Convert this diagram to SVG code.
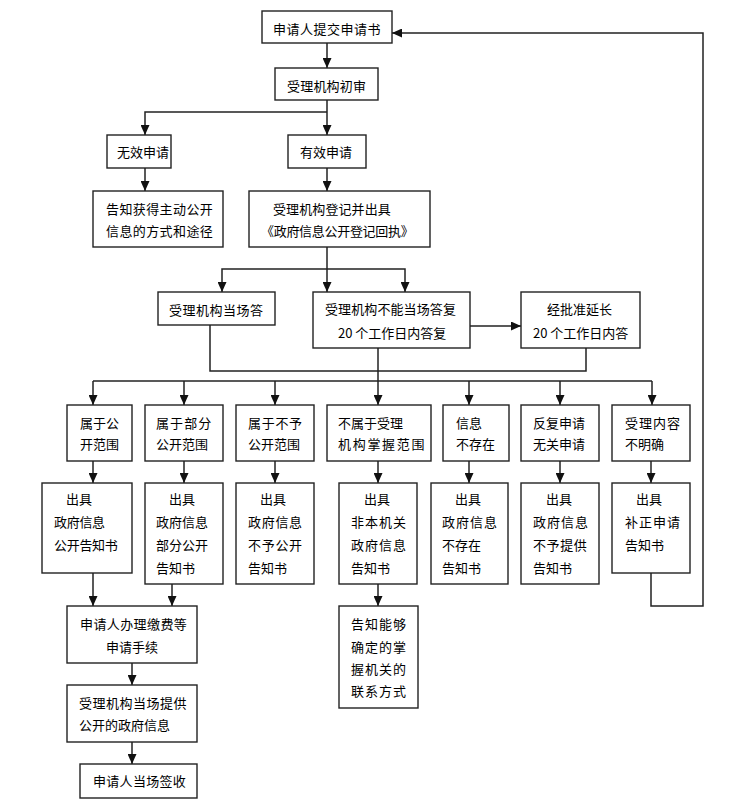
<svg xmlns="http://www.w3.org/2000/svg" width="729" height="811" viewBox="0 0 729 811">
<defs>
<marker id="ah" markerUnits="userSpaceOnUse" markerWidth="10" markerHeight="9" refX="10" refY="4.5" orient="auto">
<path d="M0,0 L10,4.5 L0,9 z" fill="#111"/>
</marker>
<style>
.b{fill:#fff;stroke:#222;stroke-width:1.4}
.c{fill:none;stroke:#222;stroke-width:1.5}
.a{marker-end:url(#ah)}
text{font-family:"Noto Sans CJK SC","Noto Sans",sans-serif;font-size:13px;fill:#000;dominant-baseline:central}
</style>
</defs>
<rect width="729" height="811" fill="#fff"/>
<g id="connectors">
<path class="c a" d="M327,43 V68"/>
<path class="c a" d="M327,100 V135"/>
<path class="c a" d="M327,112 H145 V135"/>
<path class="c a" d="M145,168 V191"/>
<path class="c a" d="M327,168 V191"/>
<path class="c a" d="M327,247 V292"/>
<path class="c a" d="M327,269 H222 V292"/>
<path class="c a" d="M327,269 H405 V292"/>
<path class="c a" d="M470,326 H521"/>
<path class="c" d="M210,325 V371 H586 V348"/>
<path class="c a" d="M378,348 V405"/>
<path class="c" d="M93,381 H652"/>
<path class="c a" d="M93,381 V405"/>
<path class="c a" d="M184,381 V405"/>
<path class="c a" d="M275,381 V405"/>
<path class="c a" d="M469,381 V405"/>
<path class="c a" d="M560,381 V405"/>
<path class="c a" d="M652,381 V405"/>
<path class="c a" d="M93,461 V483"/>
<path class="c a" d="M184,461 V483"/>
<path class="c a" d="M275,461 V483"/>
<path class="c a" d="M378,461 V483"/>
<path class="c a" d="M469,461 V483"/>
<path class="c a" d="M560,461 V483"/>
<path class="c a" d="M651,461 V483"/>
<path class="c a" d="M93,573 V606"/>
<path class="c a" d="M172,584 V606"/>
<path class="c a" d="M378,584 V606"/>
<path class="c a" d="M132,663 V685"/>
<path class="c a" d="M132,742 V764"/>
<path class="c a" d="M651,573 V606 H703 V33 H392"/>
</g>
<g id="n1"><rect class="b" x="262" y="11" width="130" height="32"/><text x="273" y="28" letter-spacing="0.5">申请人提交申请书</text></g>
<g id="n2"><rect class="b" x="275" y="68" width="103" height="32"/><text x="287" y="85" letter-spacing="0.2">受理机构初审</text></g>
<g id="n3"><rect class="b" x="107" y="135" width="64" height="33"/><text x="117" y="151">无效申请</text></g>
<g id="n4"><rect class="b" x="288" y="135" width="78" height="33"/><text x="300" y="151">有效申请</text></g>
<g id="n5"><rect class="b" x="93" y="191" width="130" height="56"/><text x="106" y="208" letter-spacing="0.4">告知获得主动公开</text><text x="106" y="230" letter-spacing="0.4">信息的方式和途径</text></g>
<g id="n6"><rect class="b" x="249" y="191" width="181" height="56"/><text x="273" y="208" letter-spacing="0.1">受理机构登记并出具</text><text x="261" y="230" letter-spacing="-0.3">《政府信息公开登记回执》</text></g>
<g id="n7"><rect class="b" x="158" y="292" width="117" height="33"/><text x="169" y="309" letter-spacing="0.5">受理机构当场答</text></g>
<g id="n8"><rect class="b" x="313" y="292" width="157" height="56"/><text x="325" y="308" letter-spacing="0.1">受理机构不能当场答复</text><text x="338" y="332">20 个工作日内答复</text></g>
<g id="n9"><rect class="b" x="521" y="292" width="119" height="56"/><text x="547" y="308">经批准延长</text><text x="533" y="332">20 个工作日内答</text></g>
<g id="r1"><rect class="b" x="67" y="405" width="65" height="56"/><text x="80" y="422">属于公</text><text x="80" y="443">开范围</text></g>
<g id="r2"><rect class="b" x="145" y="405" width="78" height="56"/><text x="156" y="422" letter-spacing="1.1">属于部分</text><text x="156" y="443">公开范围</text></g>
<g id="r3"><rect class="b" x="236" y="405" width="78" height="56"/><text x="248" y="422" letter-spacing="0.7">属于不予</text><text x="248" y="443">公开范围</text></g>
<g id="r4"><rect class="b" x="327" y="405" width="104" height="56"/><text x="338" y="422">不属于受理</text><text x="338" y="443" letter-spacing="1.7">机构掌握范围</text></g>
<g id="r5"><rect class="b" x="443" y="405" width="66" height="56"/><text x="456" y="422">信息</text><text x="456" y="443">不存在</text></g>
<g id="r6"><rect class="b" x="521" y="405" width="78" height="56"/><text x="533" y="422">反复申请</text><text x="533" y="443">无关申请</text></g>
<g id="r7"><rect class="b" x="612" y="405" width="78" height="56"/><text x="625" y="422" letter-spacing="1">受理内容</text><text x="625" y="443">不明确</text></g>
<g id="s1"><rect class="b" x="42" y="483" width="90" height="90"/><text x="66" y="498">出具</text><text x="54" y="521" letter-spacing="-0.3">政府信息</text><text x="54" y="544" letter-spacing="-0.3">公开告知书</text></g>
<g id="s2"><rect class="b" x="145" y="483" width="78" height="101"/><text x="169" y="498">出具</text><text x="156" y="521">政府信息</text><text x="156" y="544">部分公开</text><text x="156" y="567">告知书</text></g>
<g id="s3"><rect class="b" x="236" y="483" width="78" height="101"/><text x="260" y="498">出具</text><text x="248" y="521" letter-spacing="0.7">政府信息</text><text x="248" y="544" letter-spacing="0.7">不予公开</text><text x="248" y="567">告知书</text></g>
<g id="s4"><rect class="b" x="339" y="483" width="78" height="101"/><text x="364" y="498">出具</text><text x="351" y="521" letter-spacing="1">非本机关</text><text x="351" y="544" letter-spacing="1">政府信息</text><text x="351" y="567">告知书</text></g>
<g id="s5"><rect class="b" x="431" y="483" width="77" height="101"/><text x="455" y="498">出具</text><text x="442" y="521" letter-spacing="1">政府信息</text><text x="442" y="544">不存在</text><text x="442" y="567">告知书</text></g>
<g id="s6"><rect class="b" x="521" y="483" width="78" height="101"/><text x="546" y="498">出具</text><text x="533" y="521" letter-spacing="1">政府信息</text><text x="533" y="544" letter-spacing="0.6">不予提供</text><text x="533" y="567">告知书</text></g>
<g id="s7"><rect class="b" x="612" y="483" width="78" height="90"/><text x="636" y="498">出具</text><text x="625" y="521" letter-spacing="1">补正申请</text><text x="625" y="544">告知书</text></g>
<g id="t1"><rect class="b" x="67" y="606" width="130" height="57"/><text x="80" y="623" letter-spacing="0.4">申请人办理缴费等</text><text x="106" y="646">申请手续</text></g>
<g id="t2"><rect class="b" x="67" y="685" width="130" height="57"/><text x="79" y="702" letter-spacing="0.5">受理机构当场提供</text><text x="79" y="724">公开的政府信息</text></g>
<g id="t3"><rect class="b" x="80" y="764" width="117" height="34"/><text x="93" y="780" letter-spacing="0.3">申请人当场签收</text></g>
<g id="t4"><rect class="b" x="339" y="606" width="79" height="102"/><text x="351" y="623" letter-spacing="1">告知能够</text><text x="351" y="646" letter-spacing="1">确定的掌</text><text x="351" y="668" letter-spacing="1">握机关的</text><text x="351" y="690" letter-spacing="1">联系方式</text></g>
</svg>
